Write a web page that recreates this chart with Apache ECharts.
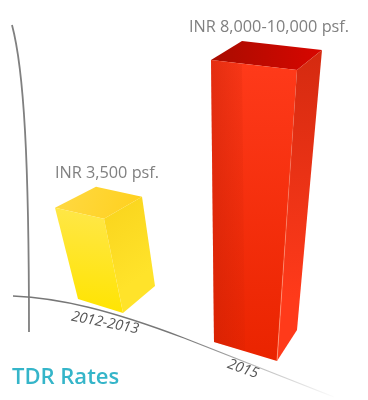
<!DOCTYPE html>
<html>
<head>
<meta charset="utf-8">
<style>html,body{margin:0;padding:0;background:#fff}#chart{width:368px;height:400px}</style>
<script src="https://cdn.jsdelivr.net/npm/echarts@6/dist/echarts.min.js"></script>
</head>
<body>
<div id="chart"></div>
<script>
var categories = ['2012-2013', '2015'];
var rates = [3500, 10000];
var rateLabels = ['INR 3,500 psf.', 'INR 8,000-10,000 psf.'];

var chartTitle = 'TDR Rates';
var font = '"Open Sans", "Noto Sans", sans-serif';

function grad(x, y, x2, y2, c1, c2) {
    return {
        type: 'linear', x: x, y: y, x2: x2, y2: y2,
        colorStops: [{offset: 0, color: c1}, {offset: 1, color: c2}]
    };
}

// box shape: offsets from the front corner, top ones from the value, bottom ones from the ground
var boxShapes = [
    {
        groundX: 123, groundY: 313,
        topLeft: [-49, -11], topBack: [-8, -32], topRight: [38, -22],
        botLeft: [-45, -14], botRight: [32, -27],
        labelX: 107, labelY: 173,
        tickX: 105, tickY: 323, tickRotate: 11,
        top: grad(0, 0, 1, 1, '#ffd944', '#ffd01c'),
        left: grad(0.7, 0, 0.5, 1, '#ffe74a', '#ffe400'),
        right: grad(0, 0, 1, 0.6, '#f9d31c', '#ffe32a')
    },
    {
        groundX: 277, groundY: 361,
        topLeft: [-86, -10], topBack: [-55, -29], topRight: [25, -20],
        botLeft: [-63, -19], botRight: [20, -31],
        labelX: 269, labelY: 27,
        tickX: 243, tickY: 369, tickRotate: 20,
        top: grad(0, 0, 1, 0, '#a80c00', '#d80600'),
        left: grad(0, 0, 0, 1, '#ff3a1a', '#ea2400'),
        right: grad(0, 0, 0.3, 0.8, '#d42a10', '#ff3a1a')
    }
];

function renderBox(params, api) {
    var i = params.dataIndex;
    var s = boxShapes[i];
    var p = api.coord([api.value(0), api.value(1)]);
    var g = [s.groundX, s.groundY];
    function up(o) { return [p[0] + o[0], p[1] + o[1]]; }
    function down(o) { return [g[0] + o[0], g[1] + o[1]]; }

    var children = [
        {type: 'polygon', shape: {points: [up(s.topLeft), up(s.topBack), up(s.topRight), p]}, style: {fill: s.top}},
        {type: 'polygon', shape: {points: [up(s.topLeft), p, g, down(s.botLeft)]}, style: {fill: s.left}},
        {type: 'polygon', shape: {points: [p, up(s.topRight), down(s.botRight), g]}, style: {fill: s.right}}
    ];
    // red box has a darker band down its left side and a thin light front edge
    if (i === 1) {
        children.push({
            type: 'polygon',
            shape: {points: [up(s.topLeft), [p[0] - 55, p[1] - 6], [g[0] - 32, g[1] - 10], down(s.botLeft)]},
            style: {fill: grad(0, 0, 1, 0, 'rgba(190,30,5,0.42)', 'rgba(190,30,5,0.1)')}
        });
        children.push({
            type: 'line',
            shape: {x1: p[0], y1: p[1], x2: g[0], y2: g[1]},
            style: {stroke: grad(0, 0, 0, 1, 'rgba(255,170,140,0)', 'rgba(255,170,140,0.7)'), lineWidth: 1}
        });
    }
    children.push({
        type: 'text',
        style: {x: s.labelX, y: s.labelY, text: rateLabels[i], fill: '#808080', font: '16.3px ' + font, textAlign: 'center', textVerticalAlign: 'middle'}
    });
    children.push({
        type: 'text',
        x: s.tickX, y: s.tickY, rotation: -s.tickRotate * Math.PI / 180,
        style: {x: 0, y: 0, text: categories[i], fill: '#555', font: 'italic 14.5px ' + font, textAlign: 'center', textVerticalAlign: 'middle'}
    });
    return {type: 'group', children: children};
}

var chart = echarts.init(document.getElementById('chart'), null, {renderer: 'canvas'});
chart.setOption({
    animation: false,
    backgroundColor: '#fff',
    title: {
        text: chartTitle, left: 7, top: 362,
        textStyle: {color: '#35b5c9', fontFamily: font, fontSize: 22, fontWeight: 600}
    },
    grid: {left: 7.5, top: 70, width: 386, height: 229, outerBoundsMode: 'none'},
    xAxis: {type: 'category', data: categories, show: false},
    yAxis: {type: 'value', min: 0, max: 10000, show: false},
    graphic: [
        {
            type: 'bezierCurve', silent: true,
            shape: {x1: 12, y1: 25, cpx1: 24, cpy1: 70, cpx2: 29, cpy2: 160, x2: 29, y2: 332},
            style: {stroke: '#808080', lineWidth: 1.8, fill: 'none'}
        },
        {
            type: 'bezierCurve', silent: true,
            shape: {x1: 13, y1: 296, cpx1: 60, cpy1: 298, cpx2: 110, cpy2: 310, x2: 184, y2: 338},
            style: {stroke: '#777', lineWidth: 1.3, fill: 'none'}
        },
        {
            type: 'line', silent: true,
            shape: {x1: 184, y1: 338, x2: 334, y2: 397},
            style: {stroke: grad(0, 0, 1, 0, '#777', 'rgba(120,120,120,0)'), lineWidth: 1.3}
        }
    ],
    series: [{
        type: 'custom',
        coordinateSystem: 'cartesian2d',
        renderItem: renderBox,
        encode: {x: 0, y: 1},
        data: categories.map(function (c, i) { return [i, rates[i]]; })
    }]
});
</script>
</body>
</html>
